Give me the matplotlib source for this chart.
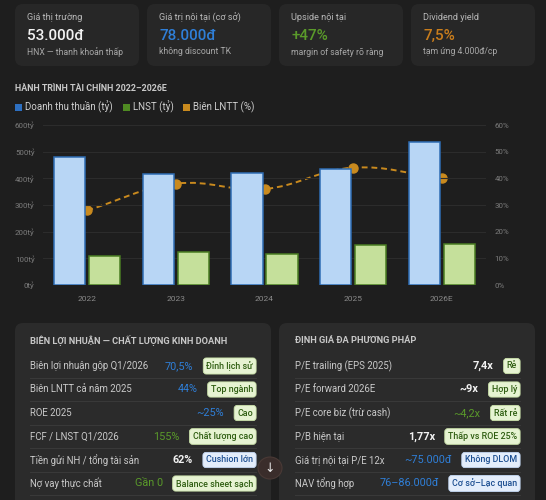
import matplotlib
matplotlib.use('Agg')
import matplotlib.pyplot as plt
import numpy as np
from matplotlib.patches import FancyBboxPatch, Rectangle, Circle
from matplotlib.path import Path
from matplotlib.patches import PathPatch

plt.rcParams['font.family'] = ['Roboto', 'DejaVu Sans']

W, H = 546, 500
BG = '#1e1e1e'
CARD = '#272727'
PANEL = '#2b2b2b'
BLUE = '#2f7fd8'
GREEN = '#5a9a2a'
ORANGE = '#c97d1c'
WHITE = '#f2f2f2'

# KPI cards
card_labels = ['Giá thị trường', 'Giá trị nội tại (cơ sở)', 'Upside nội tại', 'Dividend yield']
card_values = ['53.000đ', '78.000đ', '+47%', '7,5%']
card_subs = ['HNX — thanh khoản thấp', 'không discount TK', 'margin of safety rõ ràng', 'tạm ứng 4.000đ/cp']
card_colors = [WHITE, BLUE, GREEN, ORANGE]

# chart data
years = ['2022', '2023', '2024', '2025', '2026E']
revenue = [481, 415, 421, 436, 537]
lnst = [107, 124, 117, 151, 152]
margin = [28, 38, 36, 44, 40]

# left table
left_labels = ['Biên lợi nhuận gộp Q1/2026', 'Biên LNTT cả năm 2025', 'ROE 2025',
               'FCF / LNST Q1/2026', 'Tiền gửi NH / tổng tài sản', 'Nợ vay thực chất']
left_values = ['70,5%', '44%', '~25%', '155%', '62%', 'Gần 0']
left_vcolors = ['b', 'b', 'b', 'g', 'w', 'g']
left_badges = ['Đỉnh lịch sử', 'Top ngành', 'Cao', 'Chất lượng cao', 'Cushion lớn', 'Balance sheet sạch']
left_btypes = ['g', 'g', 'g', 'g', 'b', 'g']

# right table
right_labels = ['P/E trailing (EPS 2025)', 'P/E forward 2026E', 'P/E core biz (trừ cash)',
                'P/B hiện tại', 'Giá trị nội tại P/E 12x', 'NAV tổng hợp']
right_values = ['7,4x', '~9x', '~4,2x', '1,77x', '~75.000đ', '76–86.000đ']
right_vcolors = ['w', 'w', 'g', 'w', 'b', 'b']
right_badges = ['Rẻ', 'Hợp lý', 'Rất rẻ', 'Thấp vs ROE 25%', 'Không DLOM', 'Cơ sở–Lạc quan']
right_btypes = ['g', 'g', 'g', 'g', 'b', 'b']

fig = plt.figure(figsize=(W / 100, H / 100), dpi=100, facecolor=BG)


def fx(x):
    return x / W


def fy(y):
    return 1 - y / H


def box(x0, y0, x1, y1, fc, r=8, ec='none'):
    p = FancyBboxPatch((fx(x0), fy(y1)), (x1 - x0) / W, (y1 - y0) / H,
                       boxstyle=f'round,pad=0,rounding_size={r / W}',
                       mutation_aspect=W / H, transform=fig.transFigure,
                       fc=fc, ec=ec, lw=0.8)
    fig.patches.append(p)


def txt(x, y, s, **kw):
    return fig.text(fx(x), fy(y), s, va='center', **kw)


# cards
for i in range(4):
    x0 = 15 + i * 132
    box(x0, 4, x0 + 124, 66, CARD)
    txt(x0 + 12, 18, card_labels[i], fontsize=6.6, color='#b8b8b8')
    txt(x0 + 12, 36, card_values[i], fontsize=11, color=card_colors[i], fontweight='medium')
    txt(x0 + 12, 52, card_subs[i], fontsize=6.2, color='#a8a8a8')

# chart title + legend
txt(15, 89, 'HÀNH TRÌNH TÀI CHÍNH 2022–2026E', fontsize=6.4, color='#c8c8c8', fontweight='bold')
leg = [('Doanh thu thuần (tỷ)', '#2d6fc0', 15), ('LNST (tỷ)', '#4f8a22', 123), ('Biên LNTT (%)', '#c98a1e', 183)]
for name, c, lx in leg:
    fig.patches.append(Rectangle((fx(lx), fy(110.5)), 7 / W, 7 / H, transform=fig.transFigure, fc=c, ec='none'))
    txt(lx + 10, 107, name, fontsize=7.0, color='#cfcfcf')

# bar chart
ax = fig.add_axes([43 / W, 1 - 285 / H, 443 / W, 160 / H])
ax2 = ax.twinx()
ax.set_zorder(ax2.get_zorder() + 1)
ax.patch.set_visible(False)

x = np.arange(len(years))
bw = 0.35
off = 0.1975
ax.bar(x - off, revenue, bw, color='#b8d6f5', edgecolor='#2e6db4', linewidth=1.1)
ax.bar(x + off, lnst, bw, color='#c5e09b', edgecolor='#4a7d22', linewidth=1.1)
ax.set_xlim(-0.5, len(years) - 0.5)
ax.set_ylim(0, 600)
ax.set_yticks(range(0, 601, 100))
ax.set_yticklabels([f'{v}tỷ' for v in range(0, 601, 100)])
ax.set_xticks(x)
ax.set_xticklabels(years)
ax.grid(axis='y', color='#2c2c2c', lw=0.8)
ax.set_axisbelow(True)
ax.tick_params(length=0, labelsize=5.7, labelcolor='#7c7c7c', pad=6)
ax.tick_params(axis='x', pad=8, labelsize=6.0, labelcolor='#8a8a8a')

ax2.set_ylim(0, 60)
ax2.set_yticks(range(0, 61, 10))
ax2.set_yticklabels([f'{v}%' for v in range(0, 61, 10)])
ax2.tick_params(length=0, labelsize=5.7, labelcolor='#7c7c7c', pad=6)
for a in (ax, ax2):
    for s in a.spines.values():
        s.set_visible(False)

# smooth margin line (tension 0.4 bezier through the points)
sx, sy = 88.6, 160 / 60
pts = np.column_stack([x * sx, np.array(margin) * sy])
t = 0.4
cps = []
for i in range(len(pts)):
    p0 = pts[max(i - 1, 0)]
    p1 = pts[i]
    p2 = pts[min(i + 1, len(pts) - 1)]
    d01 = np.hypot(*(p1 - p0))
    d12 = np.hypot(*(p2 - p1))
    tot = d01 + d12 if d01 + d12 > 0 else 1
    cps.append((p1 - t * d01 / tot * (p2 - p0), p1 + t * d12 / tot * (p2 - p0)))
verts = [pts[0]]
codes = [Path.MOVETO]
for i in range(1, len(pts)):
    verts += [cps[i - 1][1], cps[i][0], pts[i]]
    codes += [Path.CURVE4] * 3
verts = np.array(verts) / [sx, sy]
ax2.add_patch(PathPatch(Path(verts, codes), fill=False, ec='#c98a1e', lw=1.4, ls=(0, (3, 2))))
ax2.plot(x, margin, 'o', ms=6.5, color='#c98a1e')

# bottom panels
box(15, 323, 271, 530, PANEL)
box(279, 323, 535, 530, PANEL)
txt(30, 340, 'BIÊN LỢI NHUẬN — CHẤT LƯỢNG KINH DOANH', fontsize=6.7, color='#c8c8c8', fontweight='bold')
txt(295, 340, 'ĐỊNH GIÁ ĐA PHƯƠNG PHÁP', fontsize=6.7, color='#c8c8c8', fontweight='bold')

vcol = {'b': BLUE, 'g': GREEN, 'w': WHITE}
bstyle = {'g': ('#e6f3d2', '#c9e0a8', '#2f5e12'), 'b': ('#e3edfb', '#c2d6f2', '#1d4f91')}
row_y = [366, 389.5, 413, 436.5, 460, 483.5]

pending = []
for lx, rx, labels, values, vcs, badges, bts in [
        (30, 256, left_labels, left_values, left_vcolors, left_badges, left_btypes),
        (295, 520, right_labels, right_values, right_vcolors, right_badges, right_btypes)]:
    for i, yy in enumerate(row_y):
        txt(lx, yy, labels[i], fontsize=6.9, color='#c9c9c9')
        fc, ec, tc = bstyle[bts[i]]
        b = txt(rx - 3, yy, badges[i], fontsize=6.4, color=tc, ha='right', fontweight='medium',
                bbox=dict(boxstyle='round,pad=0.35,rounding_size=0.35', fc=fc, ec=ec, lw=0.6))
        pending.append((b, yy, values[i], vcs[i]))
        fig.add_artist(plt.Line2D([fx(lx), fx(rx)], [fy(yy + 11.7)] * 2, transform=fig.transFigure,
                                  color='#3a3a3a', lw=0.7))

fig.canvas.draw()
for b, yy, val, vc in pending:
    bb = b.get_bbox_patch().get_window_extent()
    txt(bb.x0 - 10, yy, val, fontsize=7.8, color=vcol[vc], ha='right',
        fontweight='bold' if vc == 'w' else 'normal')

# scroll button
fig.patches.append(Circle((fx(270), fy(468)), 12 / W, transform=fig.transFigure, fc='#3a2d2b', ec='#4a3a36', lw=0.8))
fig.text(fx(270), fy(468), '↓', ha='center', va='center', fontsize=9, color='#e8e8e8', family='DejaVu Sans')

fig.savefig('out.png', dpi=100, facecolor=BG)
